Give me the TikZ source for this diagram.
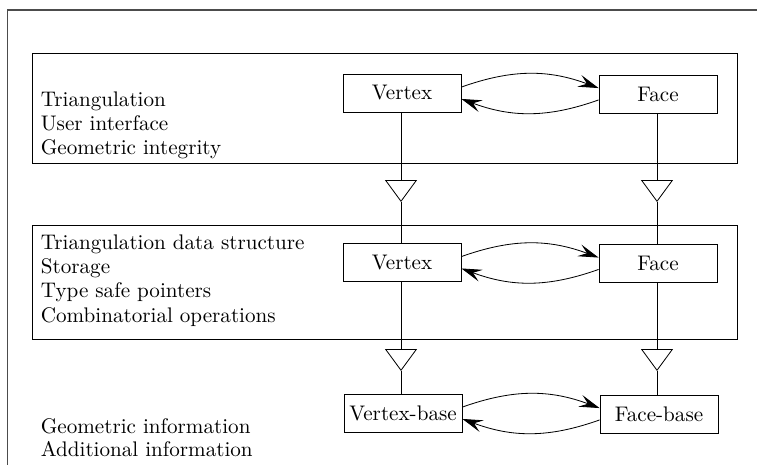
\documentclass[tikz,border=0pt]{standalone}
\usetikzlibrary{arrows.meta}
\begin{document}
\begin{tikzpicture}[x=0.488pt,y=-0.488pt,
  every node/.style={font=\fontsize{10.3pt}{12.4pt}\selectfont},
  cls/.style={draw,minimum width=57.6pt,minimum height=18.6pt,inner sep=0pt},
  txt/.style={anchor=base west,inner sep=0pt},
  assoc/.style={-{Stealth[length=10pt,width=6pt,inset=4pt]},bend left=20},
  gen/.style={-{Triangle[open,length=10.7pt,width=15.6pt]}},
  frame/.style={draw=black!70,line width=0.5pt}]
\useasboundingbox (0,0) rectangle (765,464);
% outer frame (top and left)
\draw[frame] (7.5,470) -- (7.5,10) -- (757,10);
% layer boxes
\node[draw,minimum width=344pt,minimum height=53.7pt,inner sep=0pt] (layer1) at (384.5,108) {};
\node[draw,minimum width=344pt,minimum height=56pt,inner sep=0pt] (layer2) at (384.5,282.5) {};
% texts
\node[txt] (t1) at (40.5,106.5) {Triangulation};
\node[txt] (t2) at (40.5,130.5) {User interface};
\node[txt] (t3) at (40.5,154.5) {Geometric integrity};
\node[txt] (m1) at (40.5,249) {Triangulation data structure};
\node[txt] (m2) at (40.5,273) {Storage};
\node[txt] (m3) at (40.5,297.5) {Type safe pointers};
\node[txt] (m4) at (40.5,322) {Combinatorial operations};
\node[txt] (b1) at (40.5,433.5) {Geometric information};
\node[txt] (b2) at (40.5,456) {Additional information};
% class boxes
\node[cls] (vt) at (402,93) {Vertex};
\node[cls] (ft) at (658,94) {Face};
\node[cls] (vm) at (402,262.5) {Vertex};
\node[cls] (fm) at (658,263.5) {Face};
\node[cls] (vb) at (403,413) {Vertex-base};
\node[cls] (fb) at (659,414) {Face-base};
% associations
\draw[assoc] ([yshift=2.9pt]vt.east) to ([yshift=2.9pt]ft.west);
\draw[assoc] ([yshift=-2.9pt]ft.west) to ([yshift=-2.9pt]vt.east);
\draw[assoc] ([yshift=2.9pt]vm.east) to ([yshift=2.9pt]fm.west);
\draw[assoc] ([yshift=-2.9pt]fm.west) to ([yshift=-2.9pt]vm.east);
\draw[assoc] ([yshift=2.9pt]vb.east) to ([yshift=2.9pt]fb.west);
\draw[assoc] ([yshift=-2.9pt]fb.west) to ([yshift=-2.9pt]vb.east);
% generalisation connectors
\coordinate (a1) at (401,202);
\coordinate (a2) at (657,202);
\coordinate (a3) at (401,371);
\coordinate (a4) at (657,371);
\draw[gen] (vt.south -| a1) -- (a1);
\draw (a1) -- (vm.north -| a1);
\draw[gen] (ft.south -| a2) -- (a2);
\draw (a2) -- (fm.north -| a2);
\draw[gen] (vm.south -| a3) -- (a3);
\draw (a3) -- (vb.north -| a3);
\draw[gen] (fm.south -| a4) -- (a4);
\draw (a4) -- (fb.north -| a4);
\end{tikzpicture}
\end{document}
